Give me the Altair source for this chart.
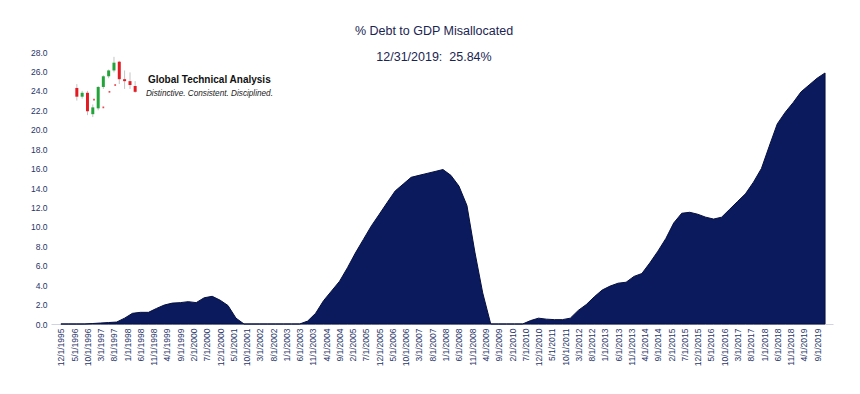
import altair as alt
import pandas as pd

# Quarterly series, 12/1995 .. 12/2019 (% Debt to GDP misallocated)
values = [
    0,
    0, 0, 0, 0.05,
    0.1, 0.15, 0.2, 0.6,
    1.1, 1.2, 1.2, 1.6,
    1.95, 2.15, 2.2, 2.3,
    2.2, 2.7, 2.85, 2.45,
    1.9, 0.6, 0, 0,
    0, 0, 0, 0,
    0, 0, 0.3, 1.1,
    2.4, 3.4, 4.4, 5.8,
    7.3, 8.7, 10.1, 11.3,
    12.5, 13.7, 14.4, 15.1,
    15.3, 15.5, 15.7, 15.9,
    15.3, 14.2, 12.2, 7.4,
    3.2, 0, 0, 0,
    0, 0, 0.35, 0.6,
    0.5, 0.45, 0.45, 0.6,
    1.4, 2.0, 2.8, 3.5,
    3.9, 4.2, 4.3, 4.9,
    5.2, 6.3, 7.5, 8.8,
    10.4, 11.4, 11.5, 11.3,
    11.0, 10.8, 11.0, 11.8,
    12.6, 13.4, 14.6, 16.0,
    18.3, 20.6, 21.8, 22.8,
    23.9, 24.6, 25.3, 25.84,
]
dates = pd.date_range("1995-12-01", periods=len(values), freq="3MS")

# x-axis tick labels (every 5 months)
tick_dates = pd.date_range("1995-12-01", "2019-09-01", freq="5MS")
y_ticks = [0, 2, 4, 6, 8, 10, 12, 14, 16, 18, 20, 22, 24, 26, 28]

# Logo candlesticks
candle_dates = ["1996-06-01", "1996-08-01", "1996-10-01", "1996-12-01", "1997-02-01", "1997-04-01",
                "1997-06-01", "1997-08-01", "1997-10-01", "1997-12-01", "1998-02-01", "1998-04-01"]
candle_open = [24.3, 23.4, 23.8, 21.6, 22.2, 24.4, 25.5, 26.1, 27.0, 25.2, 25.0, 24.5]
candle_close = [23.4, 23.8, 21.9, 22.3, 24.4, 25.5, 26.1, 26.9, 25.2, 25.0, 24.6, 23.9]
candle_high = [24.7, 24.0, 24.0, 22.6, 24.5, 25.6, 26.2, 27.5, 27.1, 26.1, 25.9, 25.0]
candle_low = [23.0, 23.2, 21.5, 21.3, 22.0, 24.2, 25.3, 25.9, 24.7, 24.2, 24.2, 23.8]

dot_dates = ["1996-12-15", "1997-04-01", "1997-06-10", "1997-08-15"]
dot_values = [23.1, 22.3, 23.9, 24.6]

df = pd.DataFrame({"date": dates, "value": values})
cdf = pd.DataFrame({
    "date": pd.to_datetime(candle_dates),
    "open": candle_open, "close": candle_close,
    "high": candle_high, "low": candle_low,
})
cdf["dir"] = ["up" if c >= o else "down" for o, c in zip(candle_open, candle_close)]
ddf = pd.DataFrame({"date": pd.to_datetime(dot_dates), "value": dot_values})

NAVY = "#0b1a5c"
LABEL = "#1f3468"
FONT = "Liberation Sans"

x_scale = alt.Scale(type="utc", domain=[alt.DateTime(year=1995, month=10, date=6, utc=True),
                                        alt.DateTime(year=2020, month=1, date=4, utc=True)])
y_scale = alt.Scale(domain=[0, 28], nice=False)

tick_vals = [alt.DateTime(year=d.year, month=d.month, date=1, utc=True) for d in tick_dates]

x_axis = alt.Axis(values=tick_vals, format="%-m/%-d/%Y", labelAngle=-90,
                  labelFontSize=8.5, labelColor=LABEL, labelFont=FONT,
                  labelOverlap=False, labelFlush=False, labelBound=False,
                  ticks=False, tickSize=0, labelPadding=4, grid=False,
                  domain=True, domainColor="#cfd3e3", domainWidth=1)
y_axis = alt.Axis(values=y_ticks, format=".1f", labelOverlap=False,
                  labelFontSize=8.5, labelColor=LABEL, labelFont=FONT,
                  ticks=False, tickSize=0, labelPadding=4, grid=False, domain=False)

xa = alt.X("date:T", scale=x_scale, axis=x_axis, title=None)

area = alt.Chart(df).mark_area(color=NAVY, stroke="#06103f", strokeWidth=1,
                               interpolate="linear").encode(
    x=xa, y=alt.Y("value:Q", scale=y_scale, axis=y_axis, title=None))

wicks = alt.Chart(cdf).mark_rule(color="#c4c4c4", strokeWidth=1).encode(
    x=xa,
    y=alt.Y("low:Q", scale=y_scale, axis=y_axis, title=None),
    y2="high:Q",
)
bodies = alt.Chart(cdf).mark_bar(size=3).encode(
    x=xa,
    y=alt.Y("open:Q", scale=y_scale, axis=y_axis, title=None),
    y2="close:Q",
    color=alt.Color("dir:N", scale=alt.Scale(domain=["up", "down"], range=["#22a43a", "#e31b23"]),
                    legend=None),
)
dots = alt.Chart(ddf).mark_square(size=3, color="#e31b23", opacity=0.8).encode(
    x=xa,
    y=alt.Y("value:Q", scale=y_scale, axis=y_axis, title=None),
)

logo_title = alt.Chart().mark_text(text="Global Technical Analysis", align="left", baseline="middle",
                                   font=FONT, fontSize=10, fontWeight="bold", color="#111111").encode(
    x=alt.datum(alt.DateTime(year=1998, month=8, date=25, utc=True), type="temporal",
                scale=x_scale, axis=x_axis, title=None),
    y=alt.datum(25.1, type="quantitative", scale=y_scale, axis=y_axis, title=None),
)
logo_tag = alt.Chart().mark_text(text="Distinctive.  Consistent.   Disciplined.", align="left",
                                 baseline="middle", font=FONT, fontSize=8.2, fontStyle="italic",
                                 color="#222222").encode(
    x=alt.datum(alt.DateTime(year=1998, month=8, date=3, utc=True), type="temporal",
                scale=x_scale, axis=x_axis, title=None),
    y=alt.datum(23.7, type="quantitative", scale=y_scale, axis=y_axis, title=None),
)

chart = alt.layer(area, wicks, bodies, dots, logo_title, logo_tag).properties(
    width=782, height=272,
    padding={"left": 22, "top": 17, "right": 5, "bottom": 5},
    background="white",
    title=alt.TitleParams(text="% Debt to GDP Misallocated", subtitle="12/31/2019:\u00a0 25.84%",
                          anchor="middle", fontSize=12.5, subtitleFontSize=12.5, font=FONT,
                          subtitleFont=FONT, fontWeight="normal", color="#1a2552",
                          subtitleColor="#1a2552", subtitlePadding=13, offset=-15, dx=-8),
).configure_view(stroke=None)

chart.save("out.html", embed_options={"renderer": "svg", "actions": False})
